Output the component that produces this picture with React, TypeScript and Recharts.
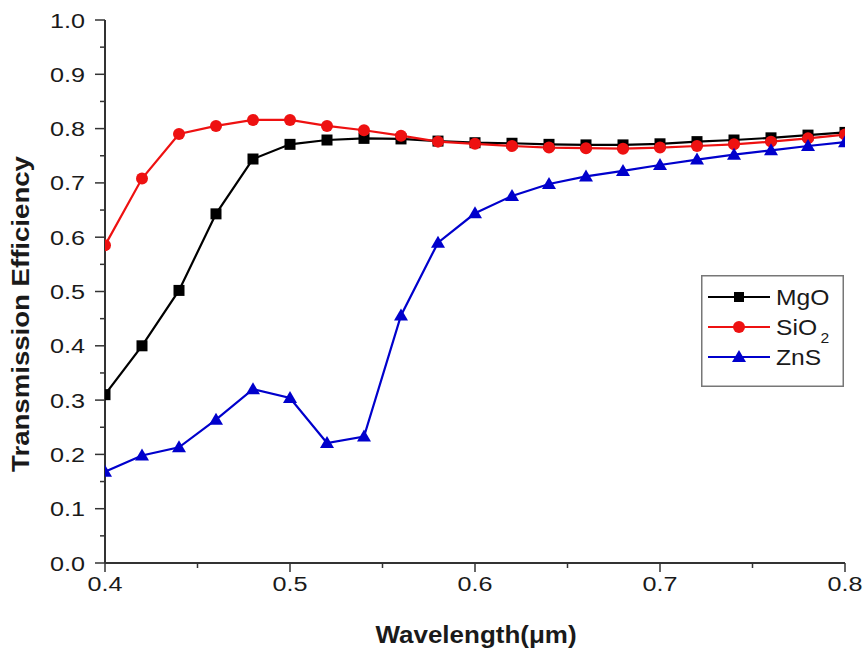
import React from "react";
import { LineChart, Line, XAxis, YAxis, Legend } from "recharts";

const wavelengths = [
  0.4, 0.42, 0.44, 0.46, 0.48, 0.5, 0.52, 0.54, 0.56, 0.58, 0.6, 0.62, 0.64, 0.66, 0.68, 0.7, 0.72, 0.74, 0.76,
  0.78, 0.8,
];
const mgo = [
  0.31, 0.4, 0.502, 0.643, 0.744, 0.771, 0.779, 0.782, 0.781, 0.777, 0.774, 0.773, 0.771, 0.77, 0.77, 0.772, 0.776,
  0.779, 0.783, 0.788, 0.793,
];
const sio2 = [
  0.585, 0.708, 0.79, 0.805, 0.816, 0.816, 0.805, 0.797, 0.787, 0.776, 0.772, 0.768, 0.765, 0.764, 0.763, 0.765,
  0.768, 0.771, 0.776, 0.782, 0.789,
];
const zns = [
  0.168, 0.198, 0.213, 0.264, 0.32, 0.304, 0.221, 0.233, 0.456, 0.59, 0.644, 0.676, 0.698, 0.712, 0.722, 0.733,
  0.743, 0.752, 0.76, 0.768, 0.775,
];

// major + minor tick positions
const xTicks = [0.4, 0.45, 0.5, 0.55, 0.6, 0.65, 0.7, 0.75, 0.8];
const yTicks = [
  0, 0.05, 0.1, 0.15, 0.2, 0.25, 0.3, 0.35, 0.4, 0.45, 0.5, 0.55, 0.6, 0.65, 0.7, 0.75, 0.8, 0.85, 0.9, 0.95, 1.0,
];

const data = wavelengths.map((w, i) => ({ w, mgo: mgo[i], sio2: sio2[i], zns: zns[i] }));

const FONT = "'Liberation Sans', Arial, sans-serif";
const AXIS = "#333";
const RED = "#ee1111";
const BLUE = "#0000cc";

const isMajor = (v: number) => Math.round(v * 100) % 10 === 0;

// the original's lettering is a bit wider than Arial, so stretch it sideways
const Stretch = ({ x, y, sx = 1.2, rotate = 0, anchor = "start", size = 21, bold = false, children }: any) => (
  <text
    transform={`translate(${x},${y}) rotate(${rotate}) scale(${sx},1)`}
    textAnchor={anchor}
    fontSize={size}
    fontWeight={bold ? "bold" : "normal"}
    fontFamily={FONT}
    fill="#1a1a1a"
  >
    {children}
  </text>
);

const XTick = ({ x, y, payload }: any) => {
  const major = isMajor(payload.value);
  return (
    <g>
      <line x1={x} x2={x} y1={y} y2={y + (major ? 9 : 5)} stroke={AXIS} strokeWidth={1.5} />
      {major && (
        <Stretch x={x} y={y + 28} anchor="middle">
          {payload.value.toFixed(1)}
        </Stretch>
      )}
    </g>
  );
};

const YTick = ({ x, y, payload }: any) => {
  const major = isMajor(payload.value);
  return (
    <g>
      <line x1={x} x2={x - (major ? 10 : 5)} y1={y} y2={y} stroke={AXIS} strokeWidth={1.5} />
      {major && (
        <Stretch x={x - 20} y={y + 7.5} anchor="end">
          {payload.value.toFixed(1)}
        </Stretch>
      )}
    </g>
  );
};

const XTitle = () => (
  <Stretch x={476} y={643} anchor="middle" size={23} sx={1.13} bold>
    Wavelength(μm)
  </Stretch>
);

const YTitle = () => (
  <Stretch x={29} y={314} rotate={-90} anchor="middle" size={23} sx={1.2} bold>
    Transmission Efficiency
  </Stretch>
);

const Square = (color: string) => (p: any) =>
  <rect key={p.key} x={p.cx - 5.5} y={p.cy - 5.5} width={11} height={11} fill={color} />;
const Circle = (color: string) => (p: any) =>
  <circle key={p.key} cx={p.cx} cy={p.cy} r={6} fill={color} />;
const Triangle = (color: string) => (p: any) =>
  <path key={p.key} d={`M${p.cx},${p.cy - 7}L${p.cx + 7},${p.cy + 5}L${p.cx - 7},${p.cy + 5}Z`} fill={color} />;

const legendRows = [
  { name: "MgO", color: "#000000", shape: "square" },
  { name: "SiO", sub: "2", color: RED, shape: "circle" },
  { name: "ZnS", color: BLUE, shape: "triangle" },
];

const LegendBox = () => (
  <svg width={143} height={112}>
    <rect x={0.75} y={0.75} width={141.5} height={110.5} fill="#fff" stroke="#777" strokeWidth={1.5} />
    {legendRows.map((r, i) => {
      const cy = 22 + i * 30;
      const cx = 38;
      return (
        <g key={r.name}>
          <line x1={7} x2={69} y1={cy} y2={cy} stroke={r.color} strokeWidth={2} />
          {r.shape === "square" && <rect x={cx - 5} y={cy - 5} width={10} height={10} fill={r.color} />}
          {r.shape === "circle" && <circle cx={cx} cy={cy} r={6} fill={r.color} />}
          {r.shape === "triangle" && (
            <path d={`M${cx},${cy - 7}L${cx + 7},${cy + 5}L${cx - 7},${cy + 5}Z`} fill={r.color} />
          )}
          <Stretch x={75} y={cy + 8} size={22} sx={1.12}>
            {r.name}
            {r.sub && (
              <tspan fontSize={14} dx={3} dy={8}>
                {r.sub}
              </tspan>
            )}
          </Stretch>
        </g>
      );
    })}
  </svg>
);

export default function App() {
  return (
    <div style={{ position: "absolute", left: 0, top: 0, width: 867, height: 659, background: "#fff" }}>
      <LineChart width={867} height={659} data={data} margin={{ top: 20, right: 22, bottom: 0, left: 0 }}>
        <XAxis
          dataKey="w"
          type="number"
          domain={[0.4, 0.8]}
          ticks={xTicks}
          interval={0}
          tick={<XTick />}
          tickLine={false}
          tickSize={0}
          tickMargin={0}
          height={96}
          axisLine={{ stroke: AXIS, strokeWidth: 2 }}
          allowDataOverflow
          label={<XTitle />}
        />
        <YAxis
          type="number"
          domain={[0, 1]}
          ticks={yTicks}
          interval={0}
          tick={<YTick />}
          tickLine={false}
          tickSize={0}
          tickMargin={0}
          width={105}
          axisLine={{ stroke: AXIS, strokeWidth: 2 }}
          label={<YTitle />}
        />
        <Legend
          layout="vertical"
          align="center"
          verticalAlign="middle"
          content={<LegendBox />}
          wrapperStyle={{ left: 701, top: 275, width: 143, height: 112 }}
        />
        <Line dataKey="mgo" stroke="#000000" strokeWidth={2.2} dot={Square("#000000")} isAnimationActive={false} />
        <Line dataKey="sio2" stroke={RED} strokeWidth={2.2} dot={Circle(RED)} isAnimationActive={false} />
        <Line dataKey="zns" stroke={BLUE} strokeWidth={2.2} dot={Triangle(BLUE)} isAnimationActive={false} />
      </LineChart>
    </div>
  );
}
